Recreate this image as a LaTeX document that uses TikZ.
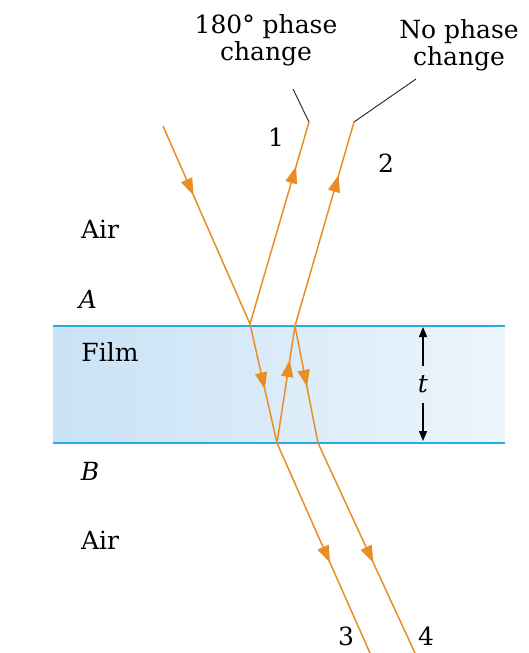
\documentclass[tikz,border=0pt]{standalone}
\usepackage{fontspec}
\setmainfont{DejaVu Serif}
\usetikzlibrary{arrows.meta,decorations.markings}
\definecolor{rayorange}{RGB}{232,142,36}
\definecolor{filmline}{RGB}{40,170,230}
\definecolor{filmleft}{RGB}{200,226,246}
\definecolor{filmright}{RGB}{236,245,252}

\begin{document}
\begin{tikzpicture}[x=1pt,y=-1pt,
    ray/.style={draw=rayorange,line width=1.5pt,postaction=decorate,
                decoration={markings,mark=at position #1 with
                {\arrow{Triangle[length=17pt,width=12pt]}}}},
    lead/.style={draw=black!80,line width=1pt},
    lbl/.style={font=\fontsize{25}{27}\selectfont,align=center,inner sep=0pt},
    tick/.style={-{Triangle[length=10pt,width=8pt]},line width=1.4pt}]
    \useasboundingbox (0,0) rectangle (528,653);
    % film
    \shade[left color=filmleft,right color=filmright] (53,326) rectangle (505,443);
    \draw[filmline,line width=1.6pt] (53,326) -- (505,326);
    \draw[filmline,line width=1.6pt] (53,443) -- (505,443);
    % points on the rays
    \coordinate (src) at (163,126);
    \coordinate (pa) at (250,324);
    \coordinate (pb) at (277,443);
    \coordinate (pc) at (295,326);
    \coordinate (pd) at (318,443);
    \coordinate (end1) at (309,122);
    \coordinate (end2) at (354,122);
    \coordinate (end3) at (370,653);
    \coordinate (end4) at (415,653);
    \coordinate (lead1) at (293,89);
    \coordinate (lead2) at (416,79);
    % rays
    \draw[ray=0.35] (src) -- (pa);
    \draw[ray=0.78] (pa) -- (end1);
    \draw[ray=0.55] (pa) -- (pb);
    \draw[ray=0.71] (pb) -- (pc);
    \draw[ray=0.74] (pc) -- (end2);
    \draw[ray=0.52] (pc) -- (pd);
    \draw[ray=0.57] (pb) -- (end3);
    \draw[ray=0.57] (pd) -- (end4);
    % leaders
    \draw[lead] (end1) -- (lead1);
    \draw[lead] (end2) -- (lead2);
    % labels
    \node[lbl] (ph180) at (266,40) {180° phase\\change};
    \node[lbl] (phno) at (459,45) {No phase\\change};
    \node[lbl] (n1) at (276,137) {1};
    \node[lbl] (n2) at (386,163) {2};
    \node[lbl] (n3) at (346,636) {3};
    \node[lbl] (n4) at (426,636) {4};
    \node[lbl] (air1) at (100,229) {Air};
    \node[lbl] (la) at (88,299) {\itshape A};
    \node[lbl] (film) at (110,352) {Film};
    \node[lbl] (lb) at (90,471) {\itshape B};
    \node[lbl] (air2) at (100,540) {Air};
    \node[lbl] (tt) at (423,384) {\itshape t};
    % thickness
    \coordinate (tup) at (423,327);
    \coordinate (tdn) at (423,441);
    \draw[tick] (423,366) -- (tup);
    \draw[tick] (423,403) -- (tdn);
\end{tikzpicture}
\end{document}
